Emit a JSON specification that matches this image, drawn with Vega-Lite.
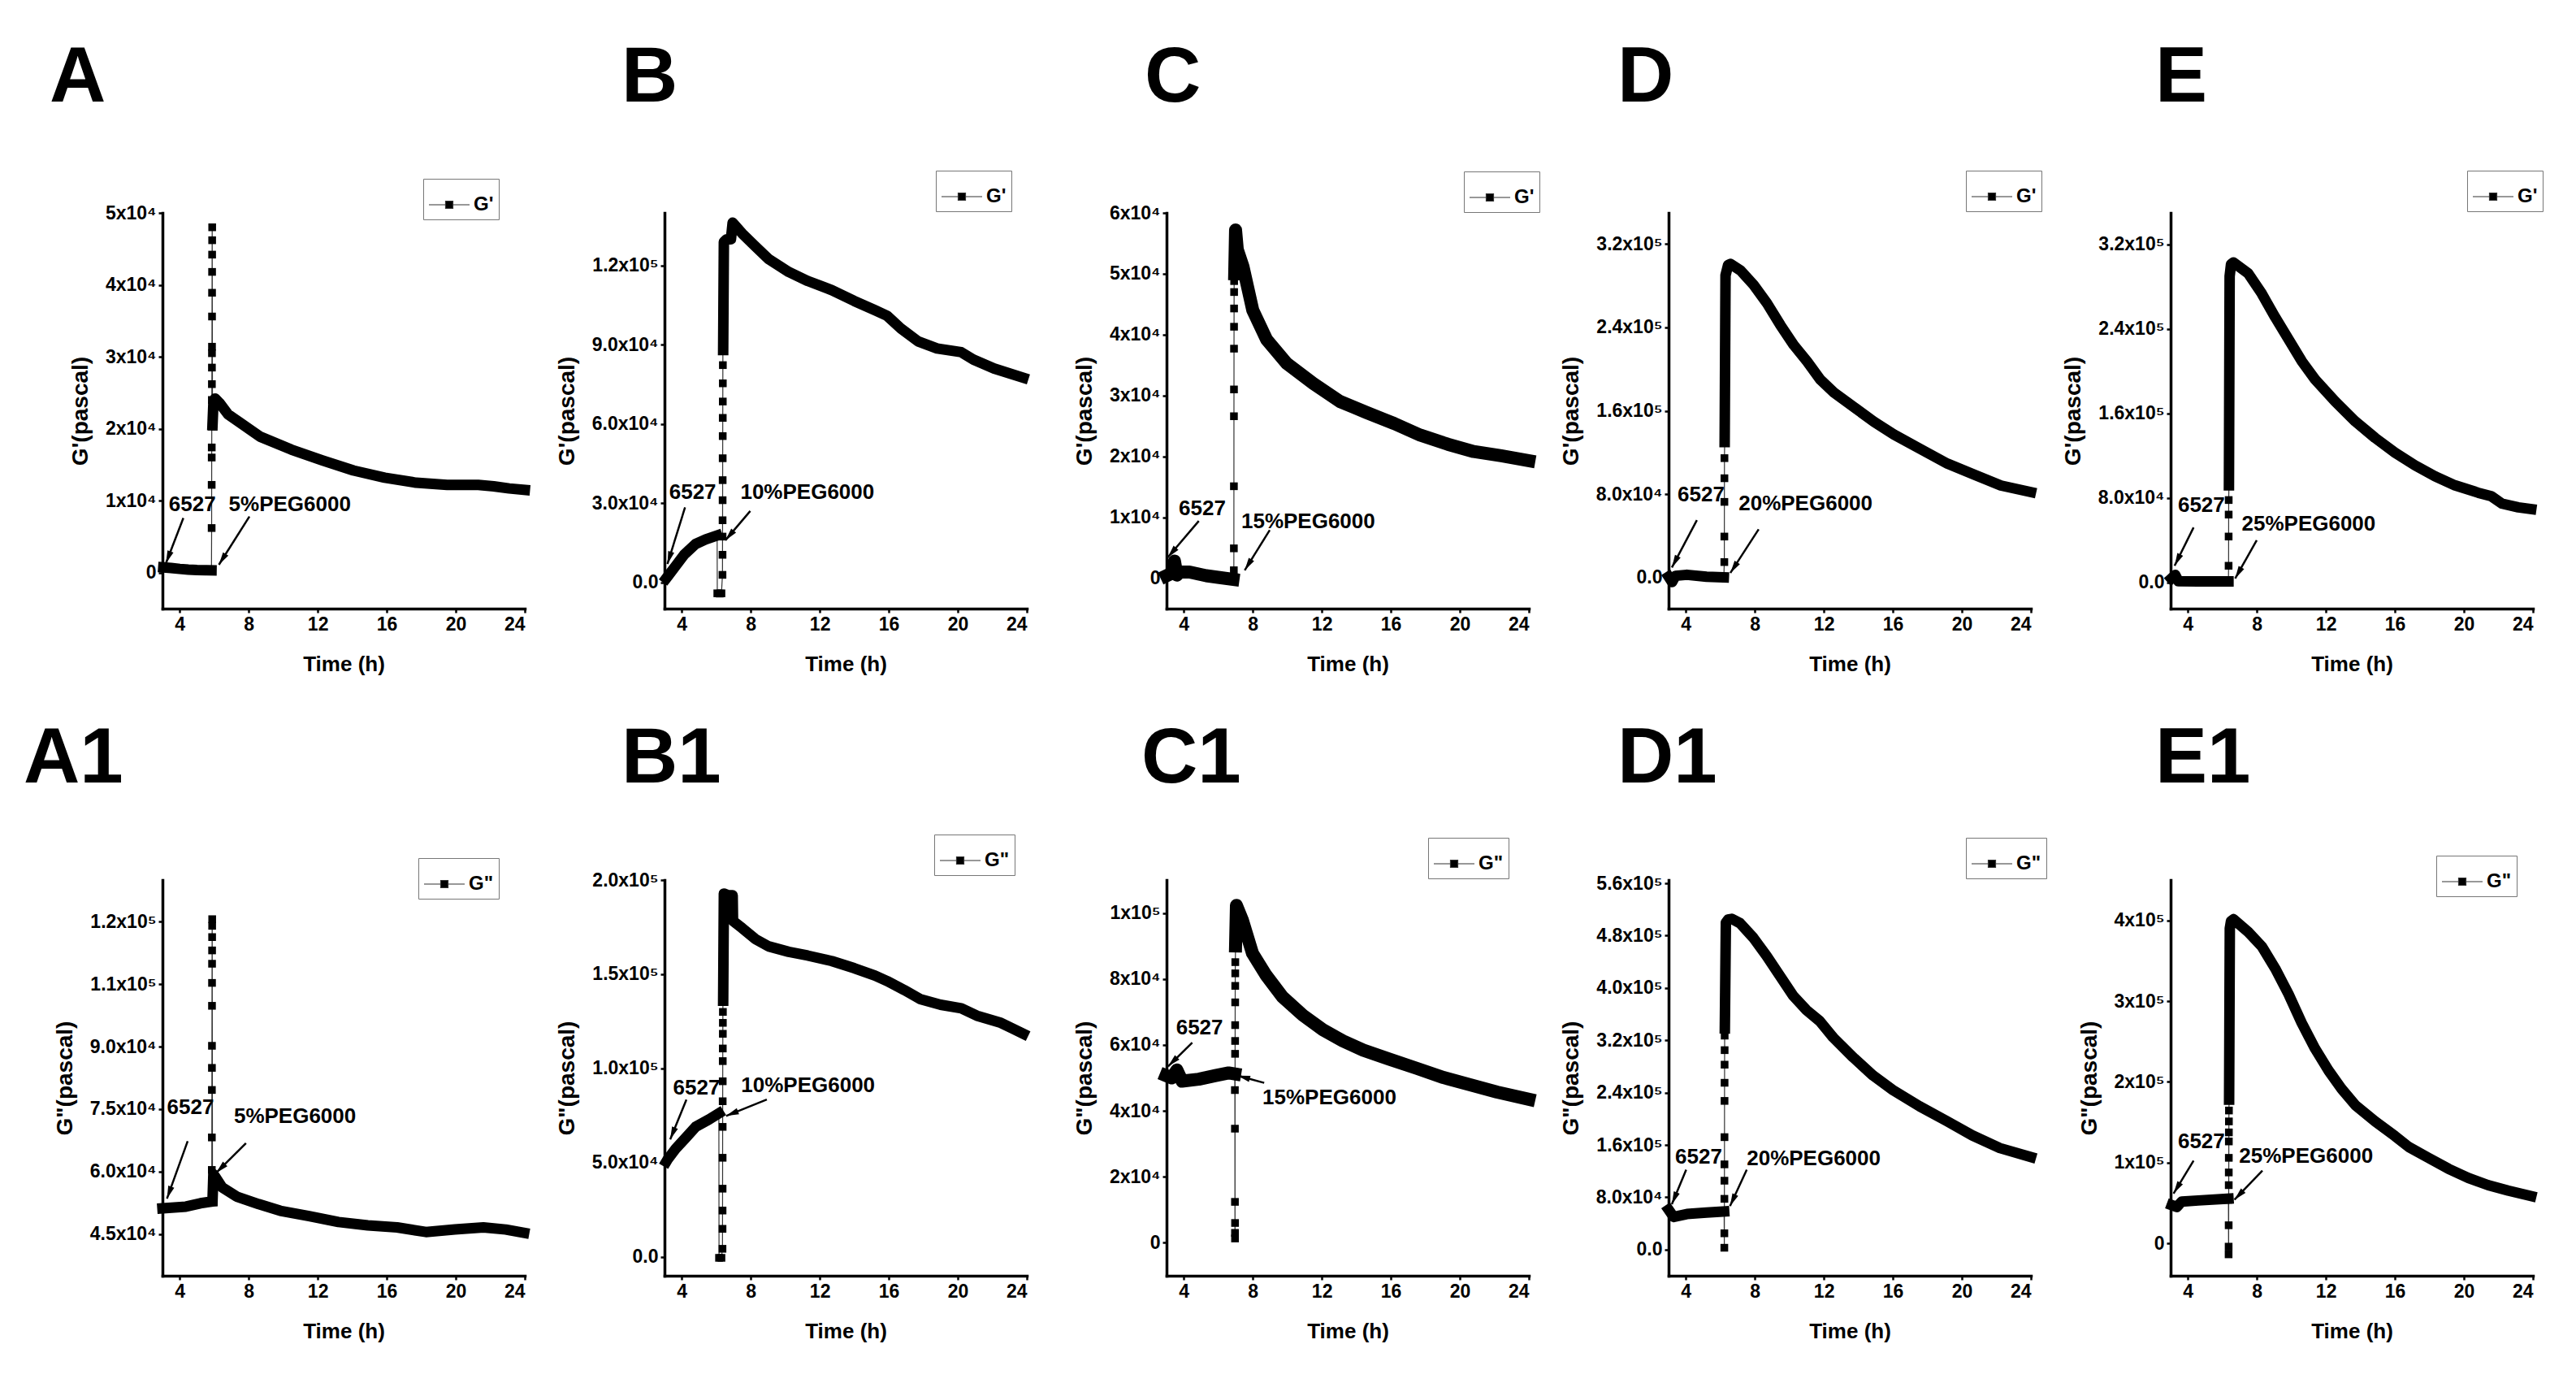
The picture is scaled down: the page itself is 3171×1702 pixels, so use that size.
{
  "$schema": "https://vega.github.io/schema/vega-lite/v6.json",
  "background": "white",
  "padding": {"left": 29, "top": 47, "right": 5, "bottom": 5},
  "datasets": {
    "A": [
      {"time": 3.05, "G": 730, "stage": "base"}, {"time": 3.5, "G": 650, "stage": "base"}, {"time": 4, "G": 520, "stage": "base"},
      {"time": 4.5, "G": 430, "stage": "base"}, {"time": 5, "G": 370, "stage": "base"}, {"time": 5.5, "G": 340, "stage": "base"},
      {"time": 5.84, "G": 330, "stage": "base"},
      {"time": 5.85, "G": 6200, "stage": "jump"}, {"time": 5.852, "G": 12200, "stage": "jump"}, {"time": 5.854, "G": 16000, "stage": "jump"},
      {"time": 5.856, "G": 17400, "stage": "jump"}, {"time": 5.858, "G": 20300, "stage": "jump"}, {"time": 5.86, "G": 22000, "stage": "jump"},
      {"time": 5.862, "G": 24000, "stage": "jump"}, {"time": 5.864, "G": 26200, "stage": "jump"}, {"time": 5.866, "G": 28500, "stage": "jump"},
      {"time": 5.868, "G": 30500, "stage": "jump"}, {"time": 5.87, "G": 31400, "stage": "jump"}, {"time": 5.872, "G": 35600, "stage": "jump"},
      {"time": 5.874, "G": 38900, "stage": "jump"}, {"time": 5.876, "G": 41800, "stage": "jump"}, {"time": 5.878, "G": 44200, "stage": "jump"},
      {"time": 5.88, "G": 46200, "stage": "jump"}, {"time": 5.882, "G": 48000, "stage": "jump"},
      {"time": 5.9, "G": 20500, "stage": "gel"}, {"time": 5.95, "G": 23500, "stage": "gel"}, {"time": 6.05, "G": 24200, "stage": "gel"},
      {"time": 6.3, "G": 23600, "stage": "gel"}, {"time": 6.8, "G": 22000, "stage": "gel"}, {"time": 7.46, "G": 20900, "stage": "gel"},
      {"time": 8.66, "G": 18900, "stage": "gel"}, {"time": 10.47, "G": 17100, "stage": "gel"}, {"time": 12.27, "G": 15600, "stage": "gel"},
      {"time": 14.07, "G": 14200, "stage": "gel"}, {"time": 15.88, "G": 13200, "stage": "gel"}, {"time": 17.7, "G": 12500, "stage": "gel"},
      {"time": 19.5, "G": 12200, "stage": "gel"}, {"time": 21.3, "G": 12200, "stage": "gel"}, {"time": 22.2, "G": 12000, "stage": "gel"},
      {"time": 23.1, "G": 11700, "stage": "gel"}, {"time": 24, "G": 11500, "stage": "gel"}
    ],
    "B": [
      {"time": 3.1, "G": 1500, "stage": "base"}, {"time": 3.17, "G": 2100, "stage": "base"}, {"time": 3.65, "G": 6200, "stage": "base"},
      {"time": 4.13, "G": 10400, "stage": "base"}, {"time": 4.8, "G": 14500, "stage": "base"}, {"time": 5.38, "G": 16200, "stage": "base"},
      {"time": 6.05, "G": 17700, "stage": "base"},
      {"time": 6.06, "G": -4200, "stage": "jump"}, {"time": 6.2, "G": -4300, "stage": "jump"}, {"time": 6.3, "G": -4200, "stage": "jump"},
      {"time": 6.36, "G": 2800, "stage": "jump"}, {"time": 6.362, "G": 10400, "stage": "jump"}, {"time": 6.364, "G": 17300, "stage": "jump"},
      {"time": 6.366, "G": 23500, "stage": "jump"}, {"time": 6.368, "G": 31100, "stage": "jump"}, {"time": 6.37, "G": 38700, "stage": "jump"},
      {"time": 6.372, "G": 47000, "stage": "jump"}, {"time": 6.374, "G": 55400, "stage": "jump"}, {"time": 6.376, "G": 62300, "stage": "jump"},
      {"time": 6.378, "G": 68500, "stage": "jump"}, {"time": 6.38, "G": 75400, "stage": "jump"}, {"time": 6.382, "G": 82300, "stage": "jump"},
      {"time": 6.384, "G": 87900, "stage": "jump"},
      {"time": 6.4, "G": 88000, "stage": "gel"}, {"time": 6.44, "G": 129000, "stage": "gel"}, {"time": 6.6, "G": 130000, "stage": "gel"},
      {"time": 6.85, "G": 130000, "stage": "gel"}, {"time": 6.95, "G": 136300, "stage": "gel"}, {"time": 7.5, "G": 132200, "stage": "gel"},
      {"time": 8.26, "G": 127300, "stage": "gel"}, {"time": 9.03, "G": 122500, "stage": "gel"}, {"time": 10.2, "G": 117600, "stage": "gel"},
      {"time": 11.3, "G": 114200, "stage": "gel"}, {"time": 12.7, "G": 110700, "stage": "gel"}, {"time": 14.0, "G": 106600, "stage": "gel"},
      {"time": 15.2, "G": 103100, "stage": "gel"}, {"time": 15.9, "G": 101000, "stage": "gel"}, {"time": 16.7, "G": 96200, "stage": "gel"},
      {"time": 17.7, "G": 91300, "stage": "gel"}, {"time": 18.8, "G": 88600, "stage": "gel"}, {"time": 20.2, "G": 87200, "stage": "gel"},
      {"time": 20.9, "G": 84400, "stage": "gel"}, {"time": 22.1, "G": 81000, "stage": "gel"}, {"time": 23.8, "G": 77500, "stage": "gel"}
    ],
    "C": [
      {"time": 3.0, "G": 400, "stage": "base"}, {"time": 3.3, "G": 800, "stage": "base"}, {"time": 3.46, "G": 2800, "stage": "base"},
      {"time": 3.6, "G": 500, "stage": "base"}, {"time": 3.75, "G": 1000, "stage": "base"}, {"time": 4.33, "G": 1000, "stage": "base"},
      {"time": 5.3, "G": 400, "stage": "base"}, {"time": 6.07, "G": 100, "stage": "base"}, {"time": 6.85, "G": -200, "stage": "base"},
      {"time": 6.9, "G": 1300, "stage": "jump"}, {"time": 6.902, "G": 4900, "stage": "jump"}, {"time": 6.904, "G": 15100, "stage": "jump"},
      {"time": 6.906, "G": 26600, "stage": "jump"}, {"time": 6.908, "G": 31000, "stage": "jump"}, {"time": 6.91, "G": 37700, "stage": "jump"},
      {"time": 6.912, "G": 41300, "stage": "jump"}, {"time": 6.914, "G": 44300, "stage": "jump"}, {"time": 6.916, "G": 47000, "stage": "jump"},
      {"time": 6.918, "G": 48800, "stage": "jump"},
      {"time": 6.95, "G": 50000, "stage": "gel"}, {"time": 7.0, "G": 57200, "stage": "gel"}, {"time": 7.1, "G": 54000, "stage": "gel"},
      {"time": 7.43, "G": 51200, "stage": "gel"}, {"time": 8.0, "G": 44000, "stage": "gel"}, {"time": 8.8, "G": 39200, "stage": "gel"},
      {"time": 9.96, "G": 35300, "stage": "gel"}, {"time": 11.5, "G": 32000, "stage": "gel"}, {"time": 13.07, "G": 29000, "stage": "gel"},
      {"time": 14.6, "G": 27200, "stage": "gel"}, {"time": 16.2, "G": 25400, "stage": "gel"}, {"time": 17.7, "G": 23500, "stage": "gel"},
      {"time": 19.3, "G": 22000, "stage": "gel"}, {"time": 20.8, "G": 20800, "stage": "gel"}, {"time": 22.4, "G": 20100, "stage": "gel"},
      {"time": 24.0, "G": 19300, "stage": "gel"}
    ],
    "D": [
      {"time": 3.0, "G": 700, "stage": "base"}, {"time": 3.2, "G": -4500, "stage": "base"}, {"time": 3.4, "G": 1500, "stage": "base"},
      {"time": 4.06, "G": 2500, "stage": "base"}, {"time": 5.2, "G": 700, "stage": "base"}, {"time": 6.2, "G": 0, "stage": "base"},
      {"time": 6.23, "G": 14700, "stage": "jump"}, {"time": 6.232, "G": 39200, "stage": "jump"}, {"time": 6.234, "G": 72500, "stage": "jump"},
      {"time": 6.236, "G": 95200, "stage": "jump"}, {"time": 6.238, "G": 114500, "stage": "jump"},
      {"time": 6.25, "G": 130000, "stage": "gel"}, {"time": 6.3, "G": 290000, "stage": "gel"}, {"time": 6.45, "G": 300000, "stage": "gel"},
      {"time": 6.58, "G": 301000, "stage": "gel"}, {"time": 7.16, "G": 294800, "stage": "gel"}, {"time": 7.93, "G": 280800, "stage": "gel"},
      {"time": 8.7, "G": 263300, "stage": "gel"}, {"time": 9.48, "G": 242300, "stage": "gel"}, {"time": 10.26, "G": 223000, "stage": "gel"},
      {"time": 11.03, "G": 207300, "stage": "gel"}, {"time": 11.8, "G": 189800, "stage": "gel"}, {"time": 12.58, "G": 177500, "stage": "gel"},
      {"time": 13.74, "G": 163500, "stage": "gel"}, {"time": 14.9, "G": 149500, "stage": "gel"}, {"time": 16.06, "G": 137200, "stage": "gel"},
      {"time": 17.6, "G": 123200, "stage": "gel"}, {"time": 19.16, "G": 109200, "stage": "gel"}, {"time": 20.7, "G": 98700, "stage": "gel"},
      {"time": 22.26, "G": 88200, "stage": "gel"}, {"time": 24, "G": 81900, "stage": "gel"}
    ],
    "E": [
      {"time": 3.04, "G": 3500, "stage": "base"}, {"time": 3.27, "G": 6900, "stage": "base"}, {"time": 3.45, "G": 1000, "stage": "base"},
      {"time": 4.6, "G": 700, "stage": "base"}, {"time": 6.35, "G": 700, "stage": "base"},
      {"time": 6.36, "G": 15600, "stage": "jump"}, {"time": 6.362, "G": 43300, "stage": "jump"}, {"time": 6.364, "G": 64100, "stage": "jump"},
      {"time": 6.366, "G": 77900, "stage": "jump"},
      {"time": 6.38, "G": 91800, "stage": "gel"}, {"time": 6.42, "G": 290000, "stage": "gel"}, {"time": 6.5, "G": 301300, "stage": "gel"},
      {"time": 6.64, "G": 303000, "stage": "gel"}, {"time": 7.5, "G": 292600, "stage": "gel"}, {"time": 8.28, "G": 273600, "stage": "gel"},
      {"time": 9.06, "G": 251100, "stage": "gel"}, {"time": 9.83, "G": 230300, "stage": "gel"}, {"time": 10.6, "G": 209500, "stage": "gel"},
      {"time": 11.37, "G": 192200, "stage": "gel"}, {"time": 12.53, "G": 171400, "stage": "gel"}, {"time": 13.7, "G": 152400, "stage": "gel"},
      {"time": 14.85, "G": 136800, "stage": "gel"}, {"time": 16.0, "G": 122900, "stage": "gel"}, {"time": 17.16, "G": 110800, "stage": "gel"},
      {"time": 18.32, "G": 100400, "stage": "gel"}, {"time": 19.48, "G": 91800, "stage": "gel"}, {"time": 20.83, "G": 84800, "stage": "gel"},
      {"time": 21.6, "G": 81400, "stage": "gel"}, {"time": 22.2, "G": 74500, "stage": "gel"}, {"time": 23.15, "G": 71000, "stage": "gel"},
      {"time": 23.9, "G": 69300, "stage": "gel"}
    ],
    "A1": [
      {"time": 3.0, "G": 51200, "stage": "base"}, {"time": 4.36, "G": 51600, "stage": "base"}, {"time": 5.2, "G": 52400, "stage": "base"},
      {"time": 5.85, "G": 52800, "stage": "base"},
      {"time": 5.86, "G": 60400, "stage": "jump"}, {"time": 5.862, "G": 68200, "stage": "jump"}, {"time": 5.864, "G": 79600, "stage": "jump"},
      {"time": 5.866, "G": 84900, "stage": "jump"}, {"time": 5.868, "G": 90200, "stage": "jump"}, {"time": 5.87, "G": 99800, "stage": "jump"},
      {"time": 5.872, "G": 105300, "stage": "jump"}, {"time": 5.874, "G": 109900, "stage": "jump"}, {"time": 5.876, "G": 113100, "stage": "jump"},
      {"time": 5.878, "G": 116300, "stage": "jump"}, {"time": 5.88, "G": 119000, "stage": "jump"}, {"time": 5.882, "G": 120600, "stage": "jump"},
      {"time": 5.9, "G": 53000, "stage": "gel"}, {"time": 5.95, "G": 59400, "stage": "gel"}, {"time": 6.1, "G": 58500, "stage": "gel"},
      {"time": 6.46, "G": 56200, "stage": "gel"}, {"time": 7.3, "G": 54000, "stage": "gel"}, {"time": 8.57, "G": 52200, "stage": "gel"},
      {"time": 9.83, "G": 50600, "stage": "gel"}, {"time": 11.5, "G": 49300, "stage": "gel"}, {"time": 13.2, "G": 47900, "stage": "gel"},
      {"time": 14.9, "G": 47100, "stage": "gel"}, {"time": 16.6, "G": 46600, "stage": "gel"}, {"time": 18.27, "G": 45500, "stage": "gel"},
      {"time": 19.95, "G": 46100, "stage": "gel"}, {"time": 21.6, "G": 46600, "stage": "gel"}, {"time": 22.9, "G": 46100, "stage": "gel"},
      {"time": 23.96, "G": 45300, "stage": "gel"}
    ],
    "B1": [
      {"time": 3.1, "G": 50500, "stage": "base"}, {"time": 3.17, "G": 51600, "stage": "base"}, {"time": 3.65, "G": 57400, "stage": "base"},
      {"time": 4.23, "G": 63200, "stage": "base"}, {"time": 4.8, "G": 69000, "stage": "base"}, {"time": 5.57, "G": 72900, "stage": "base"},
      {"time": 6.15, "G": 76200, "stage": "base"},
      {"time": 6.16, "G": -500, "stage": "jump"}, {"time": 6.3, "G": -500, "stage": "jump"}, {"time": 6.36, "G": 4300, "stage": "jump"},
      {"time": 6.362, "G": 14900, "stage": "jump"}, {"time": 6.364, "G": 24600, "stage": "jump"}, {"time": 6.366, "G": 36200, "stage": "jump"},
      {"time": 6.368, "G": 52600, "stage": "jump"}, {"time": 6.37, "G": 69000, "stage": "jump"}, {"time": 6.372, "G": 82600, "stage": "jump"},
      {"time": 6.374, "G": 93200, "stage": "jump"}, {"time": 6.376, "G": 103900, "stage": "jump"}, {"time": 6.378, "G": 110600, "stage": "jump"},
      {"time": 6.38, "G": 118400, "stage": "jump"}, {"time": 6.382, "G": 124200, "stage": "jump"}, {"time": 6.384, "G": 130000, "stage": "jump"},
      {"time": 6.386, "G": 135800, "stage": "jump"},
      {"time": 6.4, "G": 136000, "stage": "gel"}, {"time": 6.44, "G": 192800, "stage": "gel"}, {"time": 6.7, "G": 191900, "stage": "gel"},
      {"time": 6.95, "G": 191900, "stage": "gel"}, {"time": 6.97, "G": 178300, "stage": "gel"}, {"time": 7.5, "G": 174500, "stage": "gel"},
      {"time": 8.26, "G": 168700, "stage": "gel"}, {"time": 9.03, "G": 164800, "stage": "gel"}, {"time": 10.2, "G": 161900, "stage": "gel"},
      {"time": 11.3, "G": 159900, "stage": "gel"}, {"time": 12.7, "G": 157000, "stage": "gel"}, {"time": 14.0, "G": 153200, "stage": "gel"},
      {"time": 15.2, "G": 149300, "stage": "gel"}, {"time": 15.9, "G": 146400, "stage": "gel"}, {"time": 16.9, "G": 141600, "stage": "gel"},
      {"time": 17.85, "G": 136700, "stage": "gel"}, {"time": 19.0, "G": 133800, "stage": "gel"}, {"time": 20.2, "G": 131900, "stage": "gel"},
      {"time": 21.1, "G": 128000, "stage": "gel"}, {"time": 22.5, "G": 124200, "stage": "gel"}, {"time": 23.8, "G": 118400, "stage": "gel"}
    ],
    "C1": [
      {"time": 2.97, "G": 50700, "stage": "base"}, {"time": 3.3, "G": 50000, "stage": "base"}, {"time": 3.6, "G": 52400, "stage": "base"},
      {"time": 3.9, "G": 49000, "stage": "base"}, {"time": 4.87, "G": 49600, "stage": "base"}, {"time": 5.84, "G": 50700, "stage": "base"},
      {"time": 6.6, "G": 51500, "stage": "base"}, {"time": 6.95, "G": 51200, "stage": "base"},
      {"time": 6.96, "G": 46300, "stage": "jump"}, {"time": 6.962, "G": 34600, "stage": "jump"}, {"time": 6.964, "G": 12400, "stage": "jump"},
      {"time": 6.966, "G": 3000, "stage": "jump"}, {"time": 6.968, "G": 1300, "stage": "jump"}, {"time": 6.97, "G": 6000, "stage": "jump"},
      {"time": 6.972, "G": 57300, "stage": "jump"}, {"time": 6.974, "G": 61200, "stage": "jump"}, {"time": 6.976, "G": 66000, "stage": "jump"},
      {"time": 6.978, "G": 72900, "stage": "jump"}, {"time": 6.98, "G": 77900, "stage": "jump"}, {"time": 6.982, "G": 81700, "stage": "jump"},
      {"time": 6.984, "G": 85100, "stage": "jump"},
      {"time": 7.0, "G": 90000, "stage": "gel"}, {"time": 7.05, "G": 102300, "stage": "gel"}, {"time": 7.4, "G": 97800, "stage": "gel"},
      {"time": 7.98, "G": 87800, "stage": "gel"}, {"time": 8.76, "G": 81200, "stage": "gel"}, {"time": 9.73, "G": 74500, "stage": "gel"},
      {"time": 10.9, "G": 69000, "stage": "gel"}, {"time": 12.06, "G": 64600, "stage": "gel"}, {"time": 13.22, "G": 61200, "stage": "gel"},
      {"time": 14.4, "G": 58400, "stage": "gel"}, {"time": 15.9, "G": 55700, "stage": "gel"}, {"time": 17.5, "G": 52900, "stage": "gel"},
      {"time": 19.05, "G": 50100, "stage": "gel"}, {"time": 20.6, "G": 47900, "stage": "gel"}, {"time": 22.16, "G": 45700, "stage": "gel"},
      {"time": 24, "G": 43500, "stage": "gel"}
    ],
    "D1": [
      {"time": 3.0, "G": 61000, "stage": "base"}, {"time": 3.29, "G": 49900, "stage": "base"}, {"time": 4.06, "G": 54300, "stage": "base"},
      {"time": 5.2, "G": 56500, "stage": "base"}, {"time": 6.22, "G": 58200, "stage": "base"},
      {"time": 6.23, "G": 2800, "stage": "jump"}, {"time": 6.232, "G": 24900, "stage": "jump"}, {"time": 6.234, "G": 77600, "stage": "jump"},
      {"time": 6.236, "G": 105300, "stage": "jump"}, {"time": 6.238, "G": 130300, "stage": "jump"}, {"time": 6.24, "G": 171900, "stage": "jump"},
      {"time": 6.242, "G": 227300, "stage": "jump"}, {"time": 6.244, "G": 255000, "stage": "jump"}, {"time": 6.246, "G": 282700, "stage": "jump"},
      {"time": 6.248, "G": 304900, "stage": "jump"}, {"time": 6.25, "G": 327100, "stage": "jump"},
      {"time": 6.26, "G": 338200, "stage": "gel"}, {"time": 6.32, "G": 500000, "stage": "gel"}, {"time": 6.45, "G": 504500, "stage": "gel"},
      {"time": 6.66, "G": 505600, "stage": "gel"}, {"time": 7.14, "G": 499000, "stage": "gel"}, {"time": 7.91, "G": 476800, "stage": "gel"},
      {"time": 8.68, "G": 449100, "stage": "gel"}, {"time": 9.45, "G": 418600, "stage": "gel"}, {"time": 10.22, "G": 388100, "stage": "gel"},
      {"time": 11.0, "G": 365900, "stage": "gel"}, {"time": 11.76, "G": 349300, "stage": "gel"}, {"time": 12.54, "G": 324300, "stage": "gel"},
      {"time": 13.7, "G": 293800, "stage": "gel"}, {"time": 14.85, "G": 266100, "stage": "gel"}, {"time": 16.0, "G": 243900, "stage": "gel"},
      {"time": 17.55, "G": 219000, "stage": "gel"}, {"time": 19.1, "G": 196800, "stage": "gel"}, {"time": 20.6, "G": 174600, "stage": "gel"},
      {"time": 22.2, "G": 155200, "stage": "gel"}, {"time": 24, "G": 141400, "stage": "gel"}
    ],
    "E1": [
      {"time": 3.07, "G": 47400, "stage": "base"}, {"time": 3.36, "G": 45100, "stage": "base"}, {"time": 3.65, "G": 51900, "stage": "base"},
      {"time": 4.6, "G": 53200, "stage": "base"}, {"time": 6.35, "G": 55500, "stage": "base"},
      {"time": 6.36, "G": -13500, "stage": "jump"}, {"time": 6.362, "G": -4000, "stage": "jump"}, {"time": 6.364, "G": 22500, "stage": "jump"},
      {"time": 6.366, "G": 54100, "stage": "jump"}, {"time": 6.368, "G": 72200, "stage": "jump"}, {"time": 6.37, "G": 87900, "stage": "jump"},
      {"time": 6.372, "G": 106000, "stage": "jump"}, {"time": 6.374, "G": 126300, "stage": "jump"}, {"time": 6.376, "G": 137500, "stage": "jump"},
      {"time": 6.378, "G": 151100, "stage": "jump"}, {"time": 6.38, "G": 164600, "stage": "jump"},
      {"time": 6.39, "G": 178100, "stage": "gel"}, {"time": 6.43, "G": 390000, "stage": "gel"}, {"time": 6.5, "G": 399100, "stage": "gel"},
      {"time": 6.64, "G": 401400, "stage": "gel"}, {"time": 7.5, "G": 385600, "stage": "gel"}, {"time": 8.29, "G": 367600, "stage": "gel"},
      {"time": 9.06, "G": 340500, "stage": "gel"}, {"time": 9.83, "G": 308900, "stage": "gel"}, {"time": 10.6, "G": 272900, "stage": "gel"},
      {"time": 11.37, "G": 241300, "stage": "gel"}, {"time": 12.15, "G": 214200, "stage": "gel"}, {"time": 12.9, "G": 191700, "stage": "gel"},
      {"time": 13.7, "G": 171400, "stage": "gel"}, {"time": 14.85, "G": 151100, "stage": "gel"}, {"time": 16.0, "G": 133000, "stage": "gel"},
      {"time": 16.8, "G": 119500, "stage": "gel"}, {"time": 17.94, "G": 106000, "stage": "gel"}, {"time": 19.1, "G": 92500, "stage": "gel"},
      {"time": 20.25, "G": 81200, "stage": "gel"}, {"time": 21.4, "G": 72200, "stage": "gel"}, {"time": 22.57, "G": 65400, "stage": "gel"},
      {"time": 23.9, "G": 58600, "stage": "gel"}
    ],
    "A_note": [
      {"label": "6527", "label_t": 3.37, "label_g": 9500, "tail_t": 4.21, "tail_g": 7600, "head_t": 3.2, "head_g": 1300},
      {"label": "5%PEG6000", "label_t": 6.84, "label_g": 9500, "tail_t": 8.04, "tail_g": 7800, "head_t": 6.27, "head_g": 1100}
    ],
    "B_note": [
      {"label": "6527", "label_t": 3.27, "label_g": 33900, "tail_t": 4.19, "tail_g": 28400, "head_t": 3.17, "head_g": 6900},
      {"label": "10%PEG6000", "label_t": 7.4, "label_g": 33900, "tail_t": 7.97, "tail_g": 27000, "head_t": 6.53, "head_g": 15900}
    ],
    "C_note": [
      {"label": "6527", "label_t": 3.71, "label_g": 11400, "tail_t": 4.87, "tail_g": 9400, "head_t": 3.07, "head_g": 3400},
      {"label": "15%PEG6000", "label_t": 7.33, "label_g": 9300, "tail_t": 8.98, "tail_g": 7900, "head_t": 7.53, "head_g": 1300}
    ],
    "D_note": [
      {"label": "6527", "label_t": 3.52, "label_g": 79500, "tail_t": 4.64, "tail_g": 55000, "head_t": 3.19, "head_g": 9500},
      {"label": "20%PEG6000", "label_t": 7.06, "label_g": 70700, "tail_t": 8.22, "tail_g": 46200, "head_t": 6.58, "head_g": 4200}
    ],
    "E_note": [
      {"label": "6527", "label_t": 3.42, "label_g": 72700, "tail_t": 4.33, "tail_g": 51900, "head_t": 3.23, "head_g": 15600},
      {"label": "25%PEG6000", "label_t": 7.12, "label_g": 55400, "tail_t": 7.99, "tail_g": 39800, "head_t": 6.74, "head_g": 3500}
    ],
    "A1_note": [
      {"label": "6527", "label_t": 3.26, "label_g": 75300, "tail_t": 4.46, "tail_g": 67300, "head_t": 3.26, "head_g": 53500},
      {"label": "5%PEG6000", "label_t": 7.14, "label_g": 73200, "tail_t": 7.84, "tail_g": 66800, "head_t": 6.11, "head_g": 59700}
    ],
    "B1_note": [
      {"label": "6527", "label_t": 3.5, "label_g": 89700, "tail_t": 4.27, "tail_g": 83500, "head_t": 3.33, "head_g": 62300},
      {"label": "10%PEG6000", "label_t": 7.44, "label_g": 90900, "tail_t": 8.93, "tail_g": 83500, "head_t": 6.57, "head_g": 74800}
    ],
    "C1_note": [
      {"label": "6527", "label_t": 3.55, "label_g": 65100, "tail_t": 4.49, "tail_g": 60700, "head_t": 3.09, "head_g": 53500},
      {"label": "15%PEG6000", "label_t": 8.56, "label_g": 44000, "tail_t": 8.66, "tail_g": 48500, "head_t": 7.11, "head_g": 50700}
    ],
    "D1_note": [
      {"label": "6527", "label_t": 3.38, "label_g": 141400, "tail_t": 4.02, "tail_g": 122000, "head_t": 3.19, "head_g": 69300},
      {"label": "20%PEG6000", "label_t": 7.53, "label_g": 138600, "tail_t": 7.53, "tail_g": 122000, "head_t": 6.56, "head_g": 66500}
    ],
    "E1_note": [
      {"label": "6527", "label_t": 3.42, "label_g": 126300, "tail_t": 4.33, "tail_g": 102400, "head_t": 3.17, "head_g": 61800},
      {"label": "25%PEG6000", "label_t": 6.97, "label_g": 108200, "tail_t": 8.32, "tail_g": 90200, "head_t": 6.7, "head_g": 54100}
    ]
  },
  "columns": 5,
  "bounds": "flush",
  "spacing": {"row": 334, "column": 172},
  "resolve": {"scale": {"x": "independent", "y": "independent", "color": "independent"}, "legend": {"color": "independent"}},
  "concat": [
    {
      "width": 446, "height": 487,
      "title": {"text": "A", "dx": -139, "offset": 75},
      "layer": [
        {"data": {"name": "A"}, "mark": {"type": "line", "color": "#333", "strokeWidth": 1.2},
         "encoding": {
           "x": {"field": "time", "type": "quantitative", "scale": {"domain": [3, 24], "nice": false, "zero": false}, "axis": {"values": [4, 8, 12, 16, 20, 24], "title": "Time (h)"}},
           "y": {"field": "G", "type": "quantitative", "scale": {"domain": [-5000, 50000], "nice": false, "zero": false}, "axis": {"values": [0, 10000, 20000, 30000, 40000, 50000], "title": "G'(pascal)", "labelExpr": "datum.value == 0 ? '0' : datum.value >= 99999 ? format(datum.value / 100000, '.0f') + 'x10⁵' : format(datum.value / 10000, '.0f') + 'x10⁴'"}}}},
        {"data": {"name": "A"}, "transform": [{"filter": "datum.stage != 'jump'"}], "mark": {"type": "line", "color": "black", "strokeWidth": 13, "strokeCap": "square", "strokeJoin": "round"},
         "encoding": {"x": {"field": "time", "type": "quantitative"}, "y": {"field": "G", "type": "quantitative"}, "detail": {"field": "stage"}}},
        {"data": {"name": "A"}, "transform": [{"filter": "datum.stage == 'jump'"}], "mark": {"type": "square", "size": 90, "opacity": 1},
         "encoding": {"x": {"field": "time", "type": "quantitative"}, "y": {"field": "G", "type": "quantitative"},
           "color": {"datum": "G'", "scale": {"range": ["black"]}, "legend": {"title": null, "legendX": 321, "legendY": -42}}}},
        {"data": {"name": "A_note"}, "mark": {"type": "rule", "strokeWidth": 2.5, "color": "black"},
         "encoding": {"x": {"field": "tail_t", "type": "quantitative"}, "y": {"field": "tail_g", "type": "quantitative"}, "x2": {"field": "head_t"}, "y2": {"field": "head_g"}}},
        {"data": {"name": "A_note"}, "transform": [{"calculate": "atan2((datum.head_t - datum.tail_t) * 21.24, (datum.head_g - datum.tail_g) * 0.008855) * 180 / PI", "as": "angle"}],
         "mark": {"type": "point", "shape": "M0,0L0.35,1.4L-0.35,1.4Z", "filled": true, "size": 500, "color": "black", "opacity": 1},
         "encoding": {"x": {"field": "head_t", "type": "quantitative"}, "y": {"field": "head_g", "type": "quantitative"}, "angle": {"field": "angle", "type": "quantitative", "scale": null}}},
        {"data": {"name": "A_note"}, "mark": {"type": "text", "align": "left", "baseline": "middle", "fontSize": 26, "fontWeight": "bold", "color": "black"},
         "encoding": {"x": {"field": "label_t", "type": "quantitative"}, "y": {"field": "label_g", "type": "quantitative"}, "text": {"field": "label"}}}
      ]
    },
    {
      "width": 446, "height": 487,
      "title": {"text": "B", "dx": -53, "offset": 65},
      "layer": [
        {"data": {"name": "B"}, "mark": {"type": "line", "color": "#333", "strokeWidth": 1.2},
         "encoding": {
           "x": {"field": "time", "type": "quantitative", "scale": {"domain": [3, 24], "nice": false, "zero": false}, "axis": {"values": [4, 8, 12, 16, 20, 24], "title": "Time (h)"}},
           "y": {"field": "G", "type": "quantitative", "scale": {"domain": [-10000, 140000], "nice": false, "zero": false}, "axis": {"values": [0, 30000, 60000, 90000, 120000], "title": "G'(pascal)", "labelExpr": "datum.value == 0 ? '0.0' : datum.value >= 99999 ? format(datum.value / 100000, '.1f') + 'x10⁵' : format(datum.value / 10000, '.1f') + 'x10⁴'"}}}},
        {"data": {"name": "B"}, "transform": [{"filter": "datum.stage != 'jump'"}], "mark": {"type": "line", "color": "black", "strokeWidth": 13, "strokeCap": "square", "strokeJoin": "round"},
         "encoding": {"x": {"field": "time", "type": "quantitative"}, "y": {"field": "G", "type": "quantitative"}, "detail": {"field": "stage"}}},
        {"data": {"name": "B"}, "transform": [{"filter": "datum.stage == 'jump'"}], "mark": {"type": "square", "size": 90, "opacity": 1},
         "encoding": {"x": {"field": "time", "type": "quantitative"}, "y": {"field": "G", "type": "quantitative"},
           "color": {"datum": "G'", "scale": {"range": ["black"]}, "legend": {"title": null, "legendX": 334, "legendY": -52}}}},
        {"data": {"name": "B_note"}, "mark": {"type": "rule", "strokeWidth": 2.5, "color": "black"},
         "encoding": {"x": {"field": "tail_t", "type": "quantitative"}, "y": {"field": "tail_g", "type": "quantitative"}, "x2": {"field": "head_t"}, "y2": {"field": "head_g"}}},
        {"data": {"name": "B_note"}, "transform": [{"calculate": "atan2((datum.head_t - datum.tail_t) * 21.24, (datum.head_g - datum.tail_g) * 0.003247) * 180 / PI", "as": "angle"}],
         "mark": {"type": "point", "shape": "M0,0L0.35,1.4L-0.35,1.4Z", "filled": true, "size": 500, "color": "black", "opacity": 1},
         "encoding": {"x": {"field": "head_t", "type": "quantitative"}, "y": {"field": "head_g", "type": "quantitative"}, "angle": {"field": "angle", "type": "quantitative", "scale": null}}},
        {"data": {"name": "B_note"}, "mark": {"type": "text", "align": "left", "baseline": "middle", "fontSize": 26, "fontWeight": "bold", "color": "black"},
         "encoding": {"x": {"field": "label_t", "type": "quantitative"}, "y": {"field": "label_g", "type": "quantitative"}, "text": {"field": "label"}}}
      ]
    },
    {
      "width": 446, "height": 487,
      "title": {"text": "C", "dx": -27, "offset": 66},
      "layer": [
        {"data": {"name": "C"}, "mark": {"type": "line", "color": "#333", "strokeWidth": 1.2},
         "encoding": {
           "x": {"field": "time", "type": "quantitative", "scale": {"domain": [3, 24], "nice": false, "zero": false}, "axis": {"values": [4, 8, 12, 16, 20, 24], "title": "Time (h)"}},
           "y": {"field": "G", "type": "quantitative", "scale": {"domain": [-5000, 60000], "nice": false, "zero": false}, "axis": {"values": [0, 10000, 20000, 30000, 40000, 50000, 60000], "title": "G'(pascal)", "labelExpr": "datum.value == 0 ? '0' : datum.value >= 99999 ? format(datum.value / 100000, '.0f') + 'x10⁵' : format(datum.value / 10000, '.0f') + 'x10⁴'"}}}},
        {"data": {"name": "C"}, "transform": [{"filter": "datum.stage != 'jump'"}], "mark": {"type": "line", "color": "black", "strokeWidth": 16, "strokeCap": "square", "strokeJoin": "round"},
         "encoding": {"x": {"field": "time", "type": "quantitative"}, "y": {"field": "G", "type": "quantitative"}, "detail": {"field": "stage"}}},
        {"data": {"name": "C"}, "transform": [{"filter": "datum.stage == 'jump'"}], "mark": {"type": "square", "size": 90, "opacity": 1},
         "encoding": {"x": {"field": "time", "type": "quantitative"}, "y": {"field": "G", "type": "quantitative"},
           "color": {"datum": "G'", "scale": {"range": ["black"]}, "legend": {"title": null, "legendX": 366, "legendY": -51}}}},
        {"data": {"name": "C_note"}, "mark": {"type": "rule", "strokeWidth": 2.5, "color": "black"},
         "encoding": {"x": {"field": "tail_t", "type": "quantitative"}, "y": {"field": "tail_g", "type": "quantitative"}, "x2": {"field": "head_t"}, "y2": {"field": "head_g"}}},
        {"data": {"name": "C_note"}, "transform": [{"calculate": "atan2((datum.head_t - datum.tail_t) * 21.24, (datum.head_g - datum.tail_g) * 0.007492) * 180 / PI", "as": "angle"}],
         "mark": {"type": "point", "shape": "M0,0L0.35,1.4L-0.35,1.4Z", "filled": true, "size": 500, "color": "black", "opacity": 1},
         "encoding": {"x": {"field": "head_t", "type": "quantitative"}, "y": {"field": "head_g", "type": "quantitative"}, "angle": {"field": "angle", "type": "quantitative", "scale": null}}},
        {"data": {"name": "C_note"}, "mark": {"type": "text", "align": "left", "baseline": "middle", "fontSize": 26, "fontWeight": "bold", "color": "black"},
         "encoding": {"x": {"field": "label_t", "type": "quantitative"}, "y": {"field": "label_g", "type": "quantitative"}, "text": {"field": "label"}}}
      ]
    },
    {
      "width": 446, "height": 487,
      "title": {"text": "D", "dx": -63, "offset": 65},
      "layer": [
        {"data": {"name": "D"}, "mark": {"type": "line", "color": "#333", "strokeWidth": 1.2},
         "encoding": {
           "x": {"field": "time", "type": "quantitative", "scale": {"domain": [3, 24], "nice": false, "zero": false}, "axis": {"values": [4, 8, 12, 16, 20, 24], "title": "Time (h)"}},
           "y": {"field": "G", "type": "quantitative", "scale": {"domain": [-30000, 350000], "nice": false, "zero": false}, "axis": {"values": [0, 80000, 160000, 240000, 320000], "title": "G'(pascal)", "labelExpr": "datum.value == 0 ? '0.0' : datum.value >= 99999 ? format(datum.value / 100000, '.1f') + 'x10⁵' : format(datum.value / 10000, '.1f') + 'x10⁴'"}}}},
        {"data": {"name": "D"}, "transform": [{"filter": "datum.stage != 'jump'"}], "mark": {"type": "line", "color": "black", "strokeWidth": 13, "strokeCap": "square", "strokeJoin": "round"},
         "encoding": {"x": {"field": "time", "type": "quantitative"}, "y": {"field": "G", "type": "quantitative"}, "detail": {"field": "stage"}}},
        {"data": {"name": "D"}, "transform": [{"filter": "datum.stage == 'jump'"}], "mark": {"type": "square", "size": 90, "opacity": 1},
         "encoding": {"x": {"field": "time", "type": "quantitative"}, "y": {"field": "G", "type": "quantitative"},
           "color": {"datum": "G'", "scale": {"range": ["black"]}, "legend": {"title": null, "legendX": 366, "legendY": -52}}}},
        {"data": {"name": "D_note"}, "mark": {"type": "rule", "strokeWidth": 2.5, "color": "black"},
         "encoding": {"x": {"field": "tail_t", "type": "quantitative"}, "y": {"field": "tail_g", "type": "quantitative"}, "x2": {"field": "head_t"}, "y2": {"field": "head_g"}}},
        {"data": {"name": "D_note"}, "transform": [{"calculate": "atan2((datum.head_t - datum.tail_t) * 21.24, (datum.head_g - datum.tail_g) * 0.0012816) * 180 / PI", "as": "angle"}],
         "mark": {"type": "point", "shape": "M0,0L0.35,1.4L-0.35,1.4Z", "filled": true, "size": 500, "color": "black", "opacity": 1},
         "encoding": {"x": {"field": "head_t", "type": "quantitative"}, "y": {"field": "head_g", "type": "quantitative"}, "angle": {"field": "angle", "type": "quantitative", "scale": null}}},
        {"data": {"name": "D_note"}, "mark": {"type": "text", "align": "left", "baseline": "middle", "fontSize": 26, "fontWeight": "bold", "color": "black"},
         "encoding": {"x": {"field": "label_t", "type": "quantitative"}, "y": {"field": "label_g", "type": "quantitative"}, "text": {"field": "label"}}}
      ]
    },
    {
      "width": 446, "height": 487,
      "title": {"text": "E", "dx": -19, "offset": 65},
      "layer": [
        {"data": {"name": "E"}, "mark": {"type": "line", "color": "#333", "strokeWidth": 1.2},
         "encoding": {
           "x": {"field": "time", "type": "quantitative", "scale": {"domain": [3, 24], "nice": false, "zero": false}, "axis": {"values": [4, 8, 12, 16, 20, 24], "title": "Time (h)"}},
           "y": {"field": "G", "type": "quantitative", "scale": {"domain": [-25000, 350000], "nice": false, "zero": false}, "axis": {"values": [0, 80000, 160000, 240000, 320000], "title": "G'(pascal)", "labelExpr": "datum.value == 0 ? '0.0' : datum.value >= 99999 ? format(datum.value / 100000, '.1f') + 'x10⁵' : format(datum.value / 10000, '.1f') + 'x10⁴'"}}}},
        {"data": {"name": "E"}, "transform": [{"filter": "datum.stage != 'jump'"}], "mark": {"type": "line", "color": "black", "strokeWidth": 13, "strokeCap": "square", "strokeJoin": "round"},
         "encoding": {"x": {"field": "time", "type": "quantitative"}, "y": {"field": "G", "type": "quantitative"}, "detail": {"field": "stage"}}},
        {"data": {"name": "E"}, "transform": [{"filter": "datum.stage == 'jump'"}], "mark": {"type": "square", "size": 90, "opacity": 1},
         "encoding": {"x": {"field": "time", "type": "quantitative"}, "y": {"field": "G", "type": "quantitative"},
           "color": {"datum": "G'", "scale": {"range": ["black"]}, "legend": {"title": null, "legendX": 365, "legendY": -52}}}},
        {"data": {"name": "E_note"}, "mark": {"type": "rule", "strokeWidth": 2.5, "color": "black"},
         "encoding": {"x": {"field": "tail_t", "type": "quantitative"}, "y": {"field": "tail_g", "type": "quantitative"}, "x2": {"field": "head_t"}, "y2": {"field": "head_g"}}},
        {"data": {"name": "E_note"}, "transform": [{"calculate": "atan2((datum.head_t - datum.tail_t) * 21.24, (datum.head_g - datum.tail_g) * 0.0012987) * 180 / PI", "as": "angle"}],
         "mark": {"type": "point", "shape": "M0,0L0.35,1.4L-0.35,1.4Z", "filled": true, "size": 500, "color": "black", "opacity": 1},
         "encoding": {"x": {"field": "head_t", "type": "quantitative"}, "y": {"field": "head_g", "type": "quantitative"}, "angle": {"field": "angle", "type": "quantitative", "scale": null}}},
        {"data": {"name": "E_note"}, "mark": {"type": "text", "align": "left", "baseline": "middle", "fontSize": 26, "fontWeight": "bold", "color": "black"},
         "encoding": {"x": {"field": "label_t", "type": "quantitative"}, "y": {"field": "label_g", "type": "quantitative"}, "text": {"field": "label"}}}
      ]
    },
    {
      "width": 446, "height": 487,
      "title": {"text": "A1", "dx": -171, "offset": 73},
      "layer": [
        {"data": {"name": "A1"}, "mark": {"type": "line", "color": "#333", "strokeWidth": 1.2},
         "encoding": {
           "x": {"field": "time", "type": "quantitative", "scale": {"domain": [3, 24], "nice": false, "zero": false}, "axis": {"values": [4, 8, 12, 16, 20, 24], "title": "Time (h)"}},
           "y": {"field": "G", "type": "quantitative", "scale": {"domain": [35000, 130000], "nice": false, "zero": false}, "axis": {"values": [45000, 60000, 75000, 90000, 105000, 120000], "title": "G\"(pascal)", "labelExpr": "datum.value == 0 ? '0.0' : datum.value >= 99999 ? format(datum.value / 100000, '.1f') + 'x10⁵' : format(datum.value / 10000, '.1f') + 'x10⁴'"}}}},
        {"data": {"name": "A1"}, "transform": [{"filter": "datum.stage != 'jump'"}], "mark": {"type": "line", "color": "black", "strokeWidth": 13, "strokeCap": "square", "strokeJoin": "round"},
         "encoding": {"x": {"field": "time", "type": "quantitative"}, "y": {"field": "G", "type": "quantitative"}, "detail": {"field": "stage"}}},
        {"data": {"name": "A1"}, "transform": [{"filter": "datum.stage == 'jump'"}], "mark": {"type": "square", "size": 90, "opacity": 1},
         "encoding": {"x": {"field": "time", "type": "quantitative"}, "y": {"field": "G", "type": "quantitative"},
           "color": {"datum": "G\"", "scale": {"range": ["black"]}, "legend": {"title": null, "legendX": 315, "legendY": -27}}}},
        {"data": {"name": "A1_note"}, "mark": {"type": "rule", "strokeWidth": 2.5, "color": "black"},
         "encoding": {"x": {"field": "tail_t", "type": "quantitative"}, "y": {"field": "tail_g", "type": "quantitative"}, "x2": {"field": "head_t"}, "y2": {"field": "head_g"}}},
        {"data": {"name": "A1_note"}, "transform": [{"calculate": "atan2((datum.head_t - datum.tail_t) * 21.24, (datum.head_g - datum.tail_g) * 0.005126) * 180 / PI", "as": "angle"}],
         "mark": {"type": "point", "shape": "M0,0L0.35,1.4L-0.35,1.4Z", "filled": true, "size": 500, "color": "black", "opacity": 1},
         "encoding": {"x": {"field": "head_t", "type": "quantitative"}, "y": {"field": "head_g", "type": "quantitative"}, "angle": {"field": "angle", "type": "quantitative", "scale": null}}},
        {"data": {"name": "A1_note"}, "mark": {"type": "text", "align": "left", "baseline": "middle", "fontSize": 26, "fontWeight": "bold", "color": "black"},
         "encoding": {"x": {"field": "label_t", "type": "quantitative"}, "y": {"field": "label_g", "type": "quantitative"}, "text": {"field": "label"}}}
      ]
    },
    {
      "width": 446, "height": 487,
      "title": {"text": "B1", "dx": -53, "offset": 44},
      "layer": [
        {"data": {"name": "B1"}, "mark": {"type": "line", "color": "#333", "strokeWidth": 1.2},
         "encoding": {
           "x": {"field": "time", "type": "quantitative", "scale": {"domain": [3, 24], "nice": false, "zero": false}, "axis": {"values": [4, 8, 12, 16, 20, 24], "title": "Time (h)"}},
           "y": {"field": "G", "type": "quantitative", "scale": {"domain": [-10000, 200000], "nice": false, "zero": false}, "axis": {"values": [0, 50000, 100000, 150000, 200000], "title": "G\"(pascal)", "labelExpr": "datum.value == 0 ? '0.0' : datum.value >= 99999 ? format(datum.value / 100000, '.1f') + 'x10⁵' : format(datum.value / 10000, '.1f') + 'x10⁴'"}}}},
        {"data": {"name": "B1"}, "transform": [{"filter": "datum.stage != 'jump'"}], "mark": {"type": "line", "color": "black", "strokeWidth": 13, "strokeCap": "square", "strokeJoin": "round"},
         "encoding": {"x": {"field": "time", "type": "quantitative"}, "y": {"field": "G", "type": "quantitative"}, "detail": {"field": "stage"}}},
        {"data": {"name": "B1"}, "transform": [{"filter": "datum.stage == 'jump'"}], "mark": {"type": "square", "size": 90, "opacity": 1},
         "encoding": {"x": {"field": "time", "type": "quantitative"}, "y": {"field": "G", "type": "quantitative"},
           "color": {"datum": "G\"", "scale": {"range": ["black"]}, "legend": {"title": null, "legendX": 332, "legendY": -56}}}},
        {"data": {"name": "B1_note"}, "mark": {"type": "rule", "strokeWidth": 2.5, "color": "black"},
         "encoding": {"x": {"field": "tail_t", "type": "quantitative"}, "y": {"field": "tail_g", "type": "quantitative"}, "x2": {"field": "head_t"}, "y2": {"field": "head_g"}}},
        {"data": {"name": "B1_note"}, "transform": [{"calculate": "atan2((datum.head_t - datum.tail_t) * 21.24, (datum.head_g - datum.tail_g) * 0.002319) * 180 / PI", "as": "angle"}],
         "mark": {"type": "point", "shape": "M0,0L0.35,1.4L-0.35,1.4Z", "filled": true, "size": 500, "color": "black", "opacity": 1},
         "encoding": {"x": {"field": "head_t", "type": "quantitative"}, "y": {"field": "head_g", "type": "quantitative"}, "angle": {"field": "angle", "type": "quantitative", "scale": null}}},
        {"data": {"name": "B1_note"}, "mark": {"type": "text", "align": "left", "baseline": "middle", "fontSize": 26, "fontWeight": "bold", "color": "black"},
         "encoding": {"x": {"field": "label_t", "type": "quantitative"}, "y": {"field": "label_g", "type": "quantitative"}, "text": {"field": "label"}}}
      ]
    },
    {
      "width": 446, "height": 487,
      "title": {"text": "C1", "dx": -31, "offset": 48},
      "layer": [
        {"data": {"name": "C1"}, "mark": {"type": "line", "color": "#333", "strokeWidth": 1.2},
         "encoding": {
           "x": {"field": "time", "type": "quantitative", "scale": {"domain": [3, 24], "nice": false, "zero": false}, "axis": {"values": [4, 8, 12, 16, 20, 24], "title": "Time (h)"}},
           "y": {"field": "G", "type": "quantitative", "scale": {"domain": [-10000, 110000], "nice": false, "zero": false}, "axis": {"values": [0, 20000, 40000, 60000, 80000, 100000], "title": "G\"(pascal)", "labelExpr": "datum.value == 0 ? '0' : datum.value >= 99999 ? format(datum.value / 100000, '.0f') + 'x10⁵' : format(datum.value / 10000, '.0f') + 'x10⁴'"}}}},
        {"data": {"name": "C1"}, "transform": [{"filter": "datum.stage != 'jump'"}], "mark": {"type": "line", "color": "black", "strokeWidth": 16, "strokeCap": "square", "strokeJoin": "round"},
         "encoding": {"x": {"field": "time", "type": "quantitative"}, "y": {"field": "G", "type": "quantitative"}, "detail": {"field": "stage"}}},
        {"data": {"name": "C1"}, "transform": [{"filter": "datum.stage == 'jump'"}], "mark": {"type": "square", "size": 90, "opacity": 1},
         "encoding": {"x": {"field": "time", "type": "quantitative"}, "y": {"field": "G", "type": "quantitative"},
           "color": {"datum": "G\"", "scale": {"range": ["black"]}, "legend": {"title": null, "legendX": 322, "legendY": -52}}}},
        {"data": {"name": "C1_note"}, "mark": {"type": "rule", "strokeWidth": 2.5, "color": "black"},
         "encoding": {"x": {"field": "tail_t", "type": "quantitative"}, "y": {"field": "tail_g", "type": "quantitative"}, "x2": {"field": "head_t"}, "y2": {"field": "head_g"}}},
        {"data": {"name": "C1_note"}, "transform": [{"calculate": "atan2((datum.head_t - datum.tail_t) * 21.24, (datum.head_g - datum.tail_g) * 0.004058) * 180 / PI", "as": "angle"}],
         "mark": {"type": "point", "shape": "M0,0L0.35,1.4L-0.35,1.4Z", "filled": true, "size": 500, "color": "black", "opacity": 1},
         "encoding": {"x": {"field": "head_t", "type": "quantitative"}, "y": {"field": "head_g", "type": "quantitative"}, "angle": {"field": "angle", "type": "quantitative", "scale": null}}},
        {"data": {"name": "C1_note"}, "mark": {"type": "text", "align": "left", "baseline": "middle", "fontSize": 26, "fontWeight": "bold", "color": "black"},
         "encoding": {"x": {"field": "label_t", "type": "quantitative"}, "y": {"field": "label_g", "type": "quantitative"}, "text": {"field": "label"}}}
      ]
    },
    {
      "width": 446, "height": 487,
      "title": {"text": "D1", "dx": -63, "offset": 48},
      "layer": [
        {"data": {"name": "D1"}, "mark": {"type": "line", "color": "#333", "strokeWidth": 1.2},
         "encoding": {
           "x": {"field": "time", "type": "quantitative", "scale": {"domain": [3, 24], "nice": false, "zero": false}, "axis": {"values": [4, 8, 12, 16, 20, 24], "title": "Time (h)"}},
           "y": {"field": "G", "type": "quantitative", "scale": {"domain": [-40000, 565000], "nice": false, "zero": false}, "axis": {"values": [0, 80000, 160000, 240000, 320000, 400000, 480000, 560000], "title": "G\"(pascal)", "labelExpr": "datum.value == 0 ? '0.0' : datum.value >= 99999 ? format(datum.value / 100000, '.1f') + 'x10⁵' : format(datum.value / 10000, '.1f') + 'x10⁴'"}}}},
        {"data": {"name": "D1"}, "transform": [{"filter": "datum.stage != 'jump'"}], "mark": {"type": "line", "color": "black", "strokeWidth": 13, "strokeCap": "square", "strokeJoin": "round"},
         "encoding": {"x": {"field": "time", "type": "quantitative"}, "y": {"field": "G", "type": "quantitative"}, "detail": {"field": "stage"}}},
        {"data": {"name": "D1"}, "transform": [{"filter": "datum.stage == 'jump'"}], "mark": {"type": "square", "size": 90, "opacity": 1},
         "encoding": {"x": {"field": "time", "type": "quantitative"}, "y": {"field": "G", "type": "quantitative"},
           "color": {"datum": "G\"", "scale": {"range": ["black"]}, "legend": {"title": null, "legendX": 366, "legendY": -52}}}},
        {"data": {"name": "D1_note"}, "mark": {"type": "rule", "strokeWidth": 2.5, "color": "black"},
         "encoding": {"x": {"field": "tail_t", "type": "quantitative"}, "y": {"field": "tail_g", "type": "quantitative"}, "x2": {"field": "head_t"}, "y2": {"field": "head_g"}}},
        {"data": {"name": "D1_note"}, "transform": [{"calculate": "atan2((datum.head_t - datum.tail_t) * 21.24, (datum.head_g - datum.tail_g) * 0.000805) * 180 / PI", "as": "angle"}],
         "mark": {"type": "point", "shape": "M0,0L0.35,1.4L-0.35,1.4Z", "filled": true, "size": 500, "color": "black", "opacity": 1},
         "encoding": {"x": {"field": "head_t", "type": "quantitative"}, "y": {"field": "head_g", "type": "quantitative"}, "angle": {"field": "angle", "type": "quantitative", "scale": null}}},
        {"data": {"name": "D1_note"}, "mark": {"type": "text", "align": "left", "baseline": "middle", "fontSize": 26, "fontWeight": "bold", "color": "black"},
         "encoding": {"x": {"field": "label_t", "type": "quantitative"}, "y": {"field": "label_g", "type": "quantitative"}, "text": {"field": "label"}}}
      ]
    },
    {
      "width": 446, "height": 487,
      "title": {"text": "E1", "dx": -19, "offset": 70},
      "layer": [
        {"data": {"name": "E1"}, "mark": {"type": "line", "color": "#333", "strokeWidth": 1.2},
         "encoding": {
           "x": {"field": "time", "type": "quantitative", "scale": {"domain": [3, 24], "nice": false, "zero": false}, "axis": {"values": [4, 8, 12, 16, 20, 24], "title": "Time (h)"}},
           "y": {"field": "G", "type": "quantitative", "scale": {"domain": [-40000, 450000], "nice": false, "zero": false}, "axis": {"values": [0, 100000, 200000, 300000, 400000], "title": "G\"(pascal)", "labelExpr": "datum.value == 0 ? '0' : datum.value >= 99999 ? format(datum.value / 100000, '.0f') + 'x10⁵' : format(datum.value / 10000, '.0f') + 'x10⁴'"}}}},
        {"data": {"name": "E1"}, "transform": [{"filter": "datum.stage != 'jump'"}], "mark": {"type": "line", "color": "black", "strokeWidth": 13, "strokeCap": "square", "strokeJoin": "round"},
         "encoding": {"x": {"field": "time", "type": "quantitative"}, "y": {"field": "G", "type": "quantitative"}, "detail": {"field": "stage"}}},
        {"data": {"name": "E1"}, "transform": [{"filter": "datum.stage == 'jump'"}], "mark": {"type": "square", "size": 90, "opacity": 1},
         "encoding": {"x": {"field": "time", "type": "quantitative"}, "y": {"field": "G", "type": "quantitative"},
           "color": {"datum": "G\"", "scale": {"range": ["black"]}, "legend": {"title": null, "legendX": 327, "legendY": -30}}}},
        {"data": {"name": "E1_note"}, "mark": {"type": "rule", "strokeWidth": 2.5, "color": "black"},
         "encoding": {"x": {"field": "tail_t", "type": "quantitative"}, "y": {"field": "tail_g", "type": "quantitative"}, "x2": {"field": "head_t"}, "y2": {"field": "head_g"}}},
        {"data": {"name": "E1_note"}, "transform": [{"calculate": "atan2((datum.head_t - datum.tail_t) * 21.24, (datum.head_g - datum.tail_g) * 0.000994) * 180 / PI", "as": "angle"}],
         "mark": {"type": "point", "shape": "M0,0L0.35,1.4L-0.35,1.4Z", "filled": true, "size": 500, "color": "black", "opacity": 1},
         "encoding": {"x": {"field": "head_t", "type": "quantitative"}, "y": {"field": "head_g", "type": "quantitative"}, "angle": {"field": "angle", "type": "quantitative", "scale": null}}},
        {"data": {"name": "E1_note"}, "mark": {"type": "text", "align": "left", "baseline": "middle", "fontSize": 26, "fontWeight": "bold", "color": "black"},
         "encoding": {"x": {"field": "label_t", "type": "quantitative"}, "y": {"field": "label_g", "type": "quantitative"}, "text": {"field": "label"}}}
      ]
    }
  ],
  "config": {
    "view": {"stroke": null},
    "font": "Liberation Sans",
    "title": {"fontSize": 96, "fontWeight": "bold", "anchor": "start", "frame": "group", "color": "black"},
    "axis": {"domainColor": "black", "domainWidth": 3.5, "domainCap": "square", "tickColor": "black", "tickWidth": 2.5, "tickSize": 5, "labelFontSize": 23, "labelFontWeight": "bold", "labelColor": "black", "labelPadding": 3, "titleFontSize": 26, "titleFontWeight": "bold", "titleColor": "black", "grid": false},
    "axisX": {"titlePadding": 24},
    "axisY": {"titlePadding": 16, "titleFontSize": 28},
    "legend": {"orient": "none", "symbolType": "M-1,0H-0.18M0.18,0H1M-0.18,-0.18H0.18V0.18H-0.18Z", "symbolSize": 2500, "symbolStrokeWidth": 1.2, "symbolStrokeColor": "#333", "symbolFillColor": "black", "symbolOpacity": 1, "labelFontSize": 24, "labelFontWeight": "bold", "labelColor": "black", "labelOffset": 4, "strokeColor": "#777", "fillColor": "white", "padding": 6}
  }
}
